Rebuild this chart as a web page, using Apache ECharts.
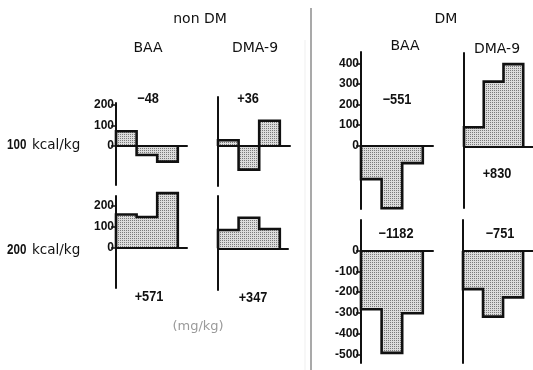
<!DOCTYPE html>
<html>
<head>
<meta charset="utf-8">
<script src="https://cdn.jsdelivr.net/npm/echarts@6.0.0/dist/echarts.min.js"></script>
<style>
    html, body { margin: 0; padding: 0; background: #fff; }
    #main { width: 533px; height: 370px; }
</style>
</head>
<body>
<div id="main"></div>
<script>
    // change per dose step (mg/kg)
    var nonDmBaa100 = [72, -44, -76];
    var nonDmDma100 = [28, -115, 123];
    var nonDmBaa200 = [160, 148, 263];
    var nonDmDma200 = [88, 147, 93];
    var dmBaa100 = [-163, -304, -85];
    var dmDma100 = [94, 316, 401];
    var dmBaa200 = [-283, -493, -302];
    var dmDma200 = [-184, -317, -224];

    // totals printed next to each panel
    var totals = ['\u221248', '+36', '+571', '+347', '\u2212551', '+830', '\u22121182', '\u2212751'];

    // tick labels
    var nonDmTicks = [0, 100, 200];
    var dm100Ticks = [0, 100, 200, 300, 400];
    var dm200Ticks = [0, -100, -200, -300, -400, -500];

    var groupNames = ['non DM', 'DM'];
    var drugNames = ['BAA', 'DMA-9'];
    var doseNames = ['100', '200'];
    var unitText = 'kcal/kg';
    var mgText = '(mg/kg)';

    var numFont = '"Liberation Sans", Arial, sans-serif';
    var txtFont = '"DejaVu Sans", sans-serif';

    // dotted screen fill like the print
    function stipple() {
        var c = document.createElement('canvas');
        c.width = 2; c.height = 2;
        var ctx = c.getContext('2d');
        ctx.fillStyle = '#dcdcdc';
        ctx.fillRect(0, 0, 2, 2);
        ctx.fillStyle = '#7a7a7a';
        ctx.fillRect(0, 0, 1, 1);
        return { image: c, repeat: 'repeat' };
    }

    // one outline around the three steps, closed down to zero at both ends
    function steps(vals) {
        var pts = [[0, 0]];
        for (var i = 0; i < vals.length; i++) {
            pts.push([i, vals[i]]);
            pts.push([i + 1, vals[i]]);
        }
        pts.push([vals.length, 0]);
        return pts;
    }

    var panels = [
        { vals: nonDmBaa100, left: 116, top: 103, width: 71, height: 82, min: -190, max: 210, ticks: nonDmTicks },
        { vals: nonDmDma100, left: 218, top: 97, width: 72, height: 89, min: -195, max: 239, ticks: null },
        { vals: nonDmBaa200, left: 116, top: 196, width: 71, height: 92, min: -194, max: 249, ticks: nonDmTicks },
        { vals: nonDmDma200, left: 218, top: 196, width: 70, height: 94, min: -200, max: 251, ticks: null },
        { vals: dmBaa100, left: 361, top: 52, width: 72, height: 157, min: -308, max: 455, ticks: dm100Ticks },
        { vals: dmDma100, left: 464, top: 53, width: 72, height: 155, min: -298, max: 455, ticks: null },
        { vals: dmBaa200, left: 361, top: 220, width: 72, height: 143, min: -542, max: 148, ticks: dm200Ticks },
        { vals: dmDma200, left: 463, top: 220, width: 72, height: 143, min: -541, max: 150, ticks: null }
    ];

    var fill = stipple();
    var grid = [], xAxis = [], yAxis = [], series = [];

    panels.forEach(function (p, i) {
        grid.push({ left: p.left, top: p.top, width: p.width, height: p.height, containLabel: false });
        xAxis.push({
            type: 'value', gridIndex: i, min: 0, max: p.width / 20.6, z: 3,
            splitLine: { show: false }, axisTick: { show: false }, axisLabel: { show: false },
            axisLine: { show: true, onZero: true, lineStyle: { color: '#111', width: 2 } }
        });
        yAxis.push({
            type: 'value', gridIndex: i, min: p.min, max: p.max, z: 3,
            splitLine: { show: false },
            axisLine: { show: true, onZero: false, lineStyle: { color: '#111', width: 2 } },
            axisTick: p.ticks ? { show: true, length: 5, customValues: p.ticks, lineStyle: { color: '#111', width: 1.5 } } : { show: false },
            axisLabel: p.ticks ? {
                show: true, customValues: p.ticks, margin: 2,
                fontFamily: numFont, fontWeight: 'bold', fontSize: 12, color: '#111',
                formatter: function (v) { return String(v); }
            } : { show: false }
        });
        series.push({
            type: 'line', xAxisIndex: i, yAxisIndex: i,
            data: steps(p.vals),
            symbol: 'none', silent: true, clip: false,
            lineStyle: { color: '#111', width: 2.6, join: 'miter' },
            areaStyle: { color: fill, opacity: 1 }
        });
    });

    // text placed by hand, sx squeezes it like the condensed print type
    function txt(s, x, y, font, color, align, sx) {
        return {
            type: 'text', silent: true, z: 10, x: x, y: y, scaleX: sx || 1,
            style: { text: s, x: 0, y: 0, font: font, fill: color || '#111', align: align || 'center', verticalAlign: 'middle' }
        };
    }

    var title = '14px ' + txtFont;
    var num = 'bold 14.5px ' + numFont;
    var graphic = [
        // separator between the two halves
        { type: 'line', silent: true, shape: { x1: 311, y1: 8, x2: 311, y2: 370 }, style: { stroke: '#a9a9a9', lineWidth: 2 } },
        { type: 'line', silent: true, shape: { x1: 305, y1: 40, x2: 305, y2: 370 }, style: { stroke: '#efefef', lineWidth: 1 } },

        txt(groupNames[0], 200, 19, title),
        txt(groupNames[1], 446, 19, title),
        txt(drugNames[0], 148, 48, title),
        txt(drugNames[1], 255, 48, title),
        txt(drugNames[0], 405, 46, title),
        txt(drugNames[1], 497, 49, title),

        txt(doseNames[0], 7, 145, num, '#111', 'left', 0.8),
        txt(unitText, 32, 145, '13.5px ' + txtFont, '#111', 'left'),
        txt(doseNames[1], 7, 250, num, '#111', 'left', 0.8),
        txt(unitText, 32, 250, '13.5px ' + txtFont, '#111', 'left'),

        txt(totals[0], 148, 99, num, '#111', 'center', 0.88),
        txt(totals[1], 248, 99, num, '#111', 'center', 0.88),
        txt(totals[2], 149, 297, num, '#111', 'center', 0.88),
        txt(totals[3], 253, 298, num, '#111', 'center', 0.88),
        txt(totals[4], 397, 100, num, '#111', 'center', 0.88),
        txt(totals[5], 497, 174, num, '#111', 'center', 0.88),
        txt(totals[6], 396, 234, num, '#111', 'center', 0.88),
        txt(totals[7], 500, 234, num, '#111', 'center', 0.88),

        txt(mgText, 198, 327, '13px ' + txtFont, '#9a9a9a')
    ];

    var chart = echarts.init(document.getElementById('main'));
    chart.setOption({
        animation: false,
        backgroundColor: '#fff',
        grid: grid,
        xAxis: xAxis,
        yAxis: yAxis,
        series: series,
        graphic: graphic
    });
</script>
</body>
</html>
